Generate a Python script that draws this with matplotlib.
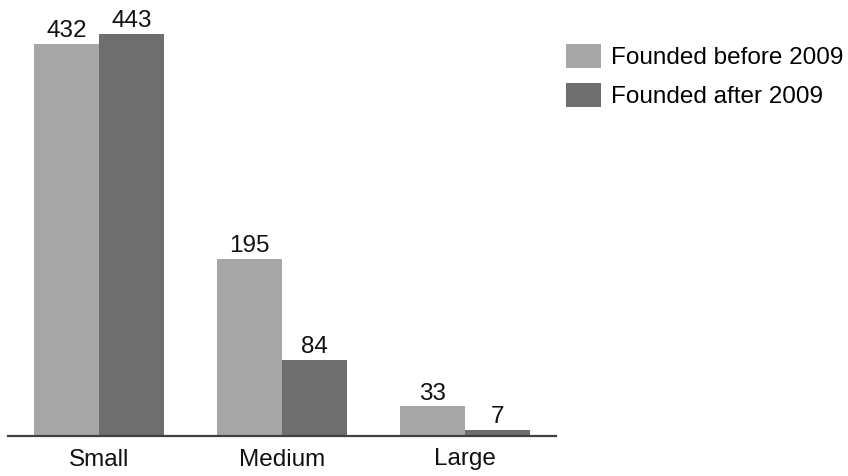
import matplotlib.pyplot as plt
import numpy as np

categories = ['Small', 'Medium', 'Large']
before_2009 = [432, 195, 33]
after_2009 = [443, 84, 7]
series_labels = ['Founded before 2009', 'Founded after 2009']

plt.rcParams['font.family'] = ['Liberation Sans', 'DejaVu Sans']

fig = plt.figure(figsize=(8.48, 4.76), dpi=100)
# axes spans the bar area; baseline at ~436 px from the top
ax = fig.add_axes([8 / 848, 1 - 436 / 476, 548 / 848, 436 / 476])

x = np.arange(len(categories))
w = 0.355
b1 = ax.bar(x - w / 2, before_2009, w, color='#a6a6a6', label=series_labels[0])
b2 = ax.bar(x + w / 2, after_2009, w, color='#6e6e6e', label=series_labels[1])

for bars, vals in ((b1, before_2009), (b2, after_2009)):
    for rect, v in zip(bars, vals):
        ax.annotate(str(v), xy=(rect.get_x() + rect.get_width() / 2, rect.get_height()),
                    xytext=(0, 1), textcoords='offset points',
                    ha='center', va='bottom', fontsize=17.5, color='#111111')

ax.set_xlim(-0.5, 2.5)
ax.set_ylim(0, 480)
ax.set_xticks(x)
ax.set_xticklabels(categories, fontsize=17.5, color='#111111')
ax.tick_params(axis='x', length=0, pad=9)
ax.set_yticks([])
for s in ('top', 'right', 'left'):
    ax.spines[s].set_visible(False)
ax.spines['bottom'].set_color('#404040')
ax.spines['bottom'].set_linewidth(1.6)

fig.legend(loc='upper left', bbox_to_anchor=(566 / 848, 1 - 44 / 476),
           frameon=False, fontsize=17.5, borderpad=0, borderaxespad=0,
           handlelength=1.42, handleheight=1.15, handletextpad=0.45,
           labelspacing=0.55)

fig.savefig('out.png', dpi=100)
